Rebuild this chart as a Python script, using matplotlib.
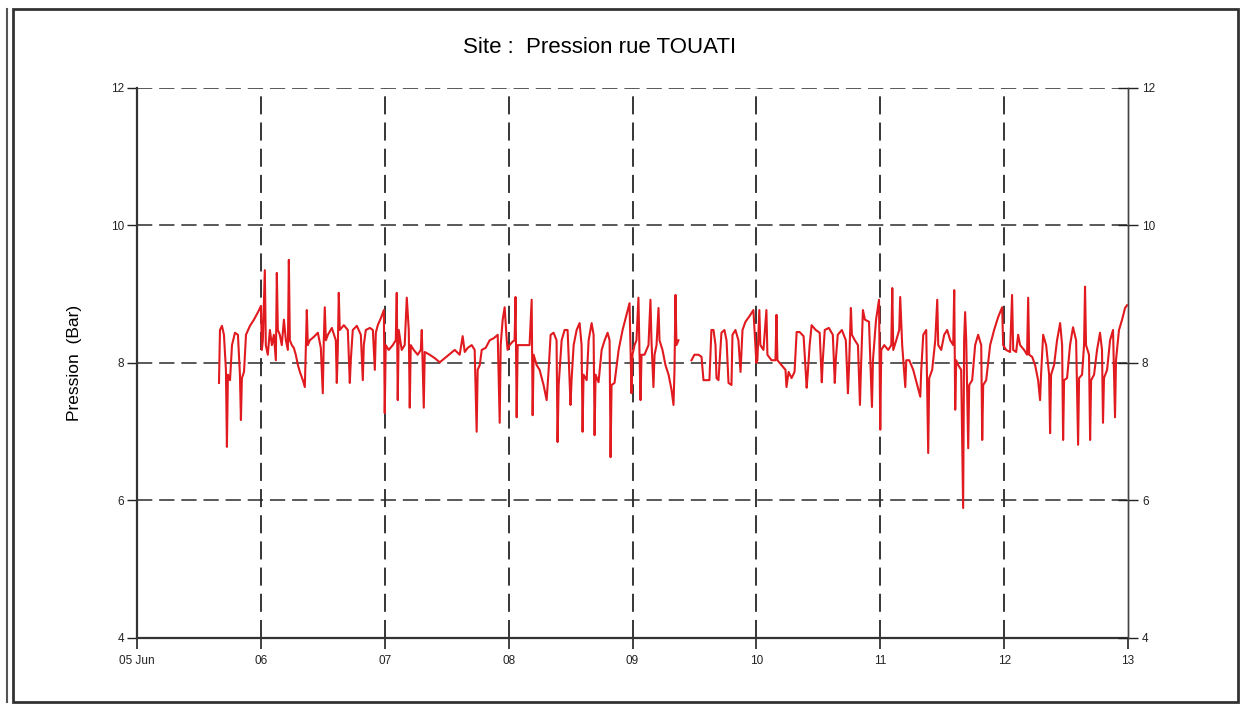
import matplotlib.pyplot as plt
from matplotlib.patches import Rectangle
from matplotlib.lines import Line2D

plt.rcParams['font.family'] = ['Liberation Sans', 'DejaVu Sans']

# temps en jours (05 Jun = 5), pression en bar ; None = coupure d'enregistrement
t_jours = [
    5.662, 5.670, 5.686, 5.702, 5.718, 5.726, 5.734, 5.751, 5.767, 5.791, 5.815, 5.831, 5.839, 5.847,
    5.864, 5.880, 5.912, 5.944, 5.977, 6.001,
    6.008, 6.016, 6.032, 6.040, 6.056, 6.073, 6.089, 6.105, 6.121, 6.129, 6.137, 6.153, 6.169, 6.186,
    6.202, 6.218, 6.226, 6.234, 6.250, 6.266, 6.282, 6.299, 6.315, 6.339, 6.355, 6.363, 6.371, 6.379,
    6.395, 6.428, 6.460, 6.484, 6.500, 6.508, 6.516, 6.525, 6.541, 6.573, 6.605, 6.613, 6.621, 6.629,
    6.637, 6.670, 6.702, 6.718, 6.726, 6.742, 6.775, 6.807, 6.823, 6.831, 6.847, 6.880, 6.904, 6.920,
    6.928, 6.944, 6.968, 6.993, 7.000, 7.008,
    7.032, 7.065, 7.089, 7.097, 7.105, 7.113, 7.137, 7.161, 7.178, 7.194, 7.202, 7.210, 7.234, 7.266,
    7.291, 7.299, 7.315, 7.323, 7.363, 7.404, 7.444, 7.484, 7.525, 7.565, 7.605, 7.629, 7.646, 7.670,
    7.702, 7.726, 7.742, 7.750, 7.767, 7.783, 7.815, 7.847, 7.880, 7.912, 7.928, 7.936, 7.952, 7.968,
    7.985, 7.992,
    8.008, 8.032, 8.048, 8.056, 8.065, 8.073, 8.105, 8.137, 8.169, 8.186, 8.194, 8.202, 8.226, 8.250,
    8.282, 8.307, 8.323, 8.339, 8.363, 8.387, 8.395, 8.404, 8.428, 8.452, 8.476, 8.500, 8.508, 8.525,
    8.549, 8.573, 8.589, 8.597, 8.605, 8.630, 8.646, 8.670, 8.686, 8.694, 8.702, 8.726, 8.751, 8.775,
    8.799, 8.815, 8.823, 8.831, 8.855, 8.888, 8.920, 8.952, 8.976, 8.992,
    9.000, 9.016, 9.032, 9.048, 9.056, 9.065, 9.073, 9.097, 9.129, 9.145, 9.153, 9.169, 9.178, 9.194,
    9.210, 9.218, 9.242, 9.266, 9.291, 9.315, 9.331, 9.339, 9.347, 9.355, 9.371, 9.420,
    9.476, 9.500, 9.533, 9.557, 9.573, 9.597, 9.621, 9.637, 9.654, 9.670, 9.678, 9.694, 9.718, 9.742,
    9.759, 9.775, 9.799, 9.807, 9.831, 9.855, 9.872, 9.888, 9.912, 9.944, 9.976,
    10.000, 10.008, 10.024, 10.032, 10.057, 10.081, 10.089, 10.122, 10.154, 10.162, 10.170, 10.203,
    10.235, 10.243, 10.260, 10.284, 10.308, 10.325, 10.349, 10.381, 10.406, 10.414, 10.430, 10.446,
    10.479, 10.511, 10.528, 10.536, 10.552, 10.585, 10.617, 10.633, 10.641, 10.657, 10.690, 10.722,
    10.739, 10.747, 10.763, 10.771, 10.795, 10.820, 10.836, 10.844, 10.860, 10.876, 10.909, 10.933,
    10.941, 10.966, 10.990,
    11.000, 11.008, 11.032, 11.064, 11.089, 11.097, 11.105, 11.129, 11.153, 11.161, 11.177, 11.202,
    11.210, 11.234, 11.266, 11.298, 11.323, 11.331, 11.347, 11.371, 11.387, 11.395, 11.419, 11.444,
    11.460, 11.468, 11.492, 11.516, 11.540, 11.565, 11.589, 11.597, 11.605, 11.613, 11.629, 11.653,
    11.669, 11.677, 11.685, 11.694, 11.710, 11.718, 11.742, 11.766, 11.790, 11.815, 11.823, 11.831,
    11.855, 11.887, 11.919, 11.952, 11.984,
    11.992, 12.016, 12.048, 12.064, 12.073, 12.097, 12.113, 12.129, 12.161, 12.185, 12.194, 12.202,
    12.226, 12.250, 12.274, 12.290, 12.298, 12.315, 12.339, 12.363, 12.371, 12.379, 12.403, 12.427,
    12.452, 12.468, 12.476, 12.484, 12.508, 12.532, 12.556, 12.581, 12.597, 12.605, 12.629, 12.645,
    12.653, 12.661, 12.685, 12.694, 12.702, 12.726, 12.750, 12.774, 12.790, 12.798, 12.806, 12.831,
    12.855, 12.879, 12.895, 12.903, 12.927, 12.952, 12.976, 12.992,
]

pression = [
    7.71, 8.48, 8.54, 8.41, 7.90, 6.78, 7.83, 7.75, 8.26, 8.44, 8.41, 7.83, 7.17, 7.78,
    7.87, 8.41, 8.54, 8.63, 8.74, 8.83,
    8.19, 8.33, 9.35, 8.26, 8.12, 8.48, 8.26, 8.41, 8.04, 9.31, 8.48, 8.41, 8.26, 8.63,
    8.33, 8.19, 9.50, 8.33, 8.26, 8.22, 8.12, 7.97, 7.87, 7.75, 7.65, 8.19, 8.77, 8.26,
    8.33, 8.38, 8.44, 8.22, 7.56, 8.33, 8.81, 8.33, 8.41, 8.51, 8.33, 7.71, 8.19, 9.02,
    8.48, 8.55, 8.48, 7.71, 8.04, 8.48, 8.54, 8.41, 7.75, 8.26, 8.48, 8.51, 8.48, 7.90,
    8.44, 8.55, 8.65, 8.77, 7.27, 8.26,
    8.19, 8.26, 8.33, 9.02, 7.46, 8.48, 8.19, 8.26, 8.95, 8.48, 7.35, 8.26, 8.19, 8.12,
    8.19, 8.48, 7.35, 8.16, 8.12, 8.07, 8.01, 8.07, 8.13, 8.19, 8.12, 8.39, 8.16, 8.22,
    8.26, 8.19, 7.00, 7.90, 7.97, 8.19, 8.22, 8.33, 8.36, 8.41, 7.13, 8.26, 8.63, 8.81,
    8.33, 8.19,
    8.26, 8.31, 8.33, 8.96, 7.21, 8.26, 8.26, 8.26, 8.26, 8.92, 7.24, 8.12, 7.97, 7.90,
    7.68, 7.46, 7.90, 8.41, 8.44, 8.33, 6.85, 7.68, 8.33, 8.48, 8.48, 7.39, 7.75, 8.26,
    8.48, 8.58, 8.26, 7.00, 7.83, 7.75, 8.33, 8.58, 8.41, 6.95, 7.83, 7.72, 8.19, 8.33,
    8.44, 8.33, 6.63, 7.68, 7.71, 8.19, 8.48, 8.70, 8.87, 7.56,
    8.12, 8.26, 8.33, 8.95, 8.19, 7.46, 8.12, 8.12, 8.26, 8.92, 8.33, 7.65, 8.12, 8.26,
    8.80, 8.33, 8.19, 7.97, 7.83, 7.61, 7.39, 7.90, 8.99, 8.26, 8.33, None,
    8.04, 8.12, 8.12, 8.09, 7.75, 7.75, 7.75, 8.48, 8.48, 8.26, 7.78, 7.75, 8.44, 8.48,
    8.33, 7.71, 7.68, 8.41, 8.48, 8.33, 7.87, 8.48, 8.60, 8.68, 8.77,
    8.00, 8.04, 8.77, 8.26, 8.19, 8.77, 8.12, 8.04, 8.04, 8.70, 8.04, 7.97,
    7.90, 7.65, 7.87, 7.78, 7.87, 8.45, 8.45, 8.39, 7.64, 7.83, 8.26, 8.55,
    8.48, 8.44, 7.72, 8.04, 8.48, 8.51, 8.41, 7.71, 8.04, 8.41, 8.48, 8.33,
    7.56, 7.90, 8.80, 8.41, 8.33, 8.26, 7.39, 7.90, 8.77, 8.63, 8.60, 7.36,
    8.04, 8.63, 8.92,
    7.03, 8.19, 8.26, 8.19, 8.26, 9.09, 8.19, 8.33, 8.48, 8.96, 8.26, 7.65,
    8.04, 8.04, 7.90, 7.68, 7.51, 7.90, 8.41, 8.48, 6.69, 7.78, 7.90, 8.33,
    8.92, 8.26, 8.19, 8.41, 8.48, 8.33, 8.26, 9.06, 7.32, 8.04, 7.97, 7.90,
    5.89, 8.33, 8.74, 8.33, 6.76, 7.68, 7.75, 8.26, 8.41, 8.26, 6.88, 7.68,
    7.75, 8.26, 8.48, 8.67, 8.81,
    8.26, 8.19, 8.16, 8.99, 8.19, 8.16, 8.41, 8.26, 8.19, 8.12, 8.95, 8.12,
    8.09, 7.97, 7.75, 7.46, 7.83, 8.41, 8.26, 7.83, 6.98, 7.83, 7.97, 8.33,
    8.58, 8.26, 6.88, 7.75, 7.78, 8.26, 8.52, 8.33, 6.81, 7.78, 7.83, 8.26,
    9.11, 8.26, 8.12, 6.88, 7.75, 7.83, 8.19, 8.44, 8.19, 7.13, 7.78, 7.90,
    8.33, 8.48, 7.21, 8.04, 8.48, 8.63, 8.80, 8.84,
]

jours = [5, 6, 7, 8, 9, 10, 11, 12, 13]
jours_labels = ["05 Jun", "06", "07", "08", "09", "10", "11", "12", "13"]
niveaux = [4, 6, 8, 10, 12]

pression = [float('nan') if v is None else v for v in pression]

fig = plt.figure(figsize=(12.43, 7.04), dpi=100)
ax = fig.add_axes([0.1102, 0.0938, 0.7973, 0.7812])

tirets = (0, (10, 4.5))
for j in jours[1:-1]:
    ax.axvline(j, color='#262626', lw=1.3, ls=tirets, zorder=1)
for n in niveaux[1:]:
    ax.axhline(n, color='#2b2b2b', lw=1.1, ls=tirets, zorder=1)

ax.plot(t_jours, pression, color='#e01a1e', lw=1.5, zorder=3)

ax.set_xlim(5, 13)
ax.set_ylim(4, 12)
ax.set_xticks(jours)
ax.set_xticklabels(jours_labels, fontsize=8.5)
ax.set_yticks(niveaux)
ax.set_yticklabels([str(n) for n in niveaux], fontsize=8.5)
ax.tick_params(axis='y', direction='out', length=7, width=1, pad=2, colors='#222222')
ax.tick_params(axis='x', direction='out', length=8, width=1.2, pad=4, colors='#222222')

ax.spines['top'].set_visible(False)
for s in ['left', 'bottom']:
    ax.spines[s].set_linewidth(1.6)
    ax.spines[s].set_color('#333333')
ax.spines['right'].set_linewidth(1.0)
ax.spines['right'].set_color('#444444')

ax2 = ax.twinx()
ax2.set_ylim(4, 12)
ax2.set_yticks(niveaux)
ax2.set_yticklabels([str(n) for n in niveaux], fontsize=8.5)
ax2.tick_params(axis='y', direction='inout', length=14, width=1, pad=3, colors='#222222')
for s in ['top', 'left', 'bottom']:
    ax2.spines[s].set_visible(False)
ax2.spines['right'].set_linewidth(1.0)
ax2.spines['right'].set_color('#444444')

fig.text(0.0603, 0.484, "Pression  (Bar)", fontsize=12.5, rotation=90, ha='center', va='center')
fig.text(0.482, 0.932, "Site :  Pression rue TOUATI", fontsize=16, ha='center', va='center')

# cadre du document
fig.patches.append(Rectangle((0.0105, 0.003), 0.9855, 0.984, transform=fig.transFigure,
                             fill=False, lw=2, edgecolor='#333333'))
fig.lines.append(Line2D([0.0056, 0.0056], [0.003, 0.987], transform=fig.transFigure,
                        lw=1.5, color='#555555'))

fig.savefig("out.png", dpi=100)
